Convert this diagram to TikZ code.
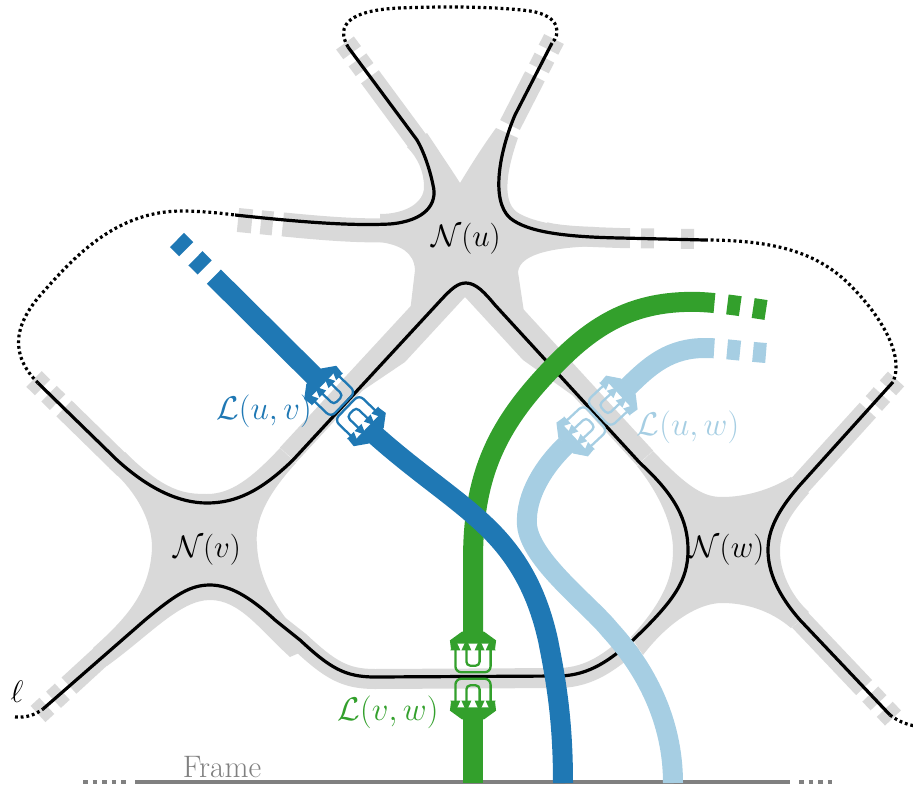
\documentclass[tikz,border=0pt]{standalone}
\definecolor{cblue}{RGB}{31,120,180}
\definecolor{clight}{RGB}{166,206,227}
\definecolor{cgreen}{RGB}{51,160,44}
\definecolor{cgray}{RGB}{217,217,217}
\definecolor{cframe}{RGB}{128,128,128}
\newcommand{\bigtxt}[1]{\scalebox{1.25}{\Huge #1}}
\newcommand{\lnktxt}[1]{\scalebox{1.32}{\Huge #1}}
\tikzset{pics/plug/.style={code={
  \fill[#1] (-10,-14) -- (10,-14) -- (21,-6) -- (20,2) -- (16,-3) -- (-16,-3) -- (-20,2) -- (-21,-6) -- cycle;
  \foreach \xx in {-16,-6,6,16} { \fill[#1] (\xx,-7) -- (\xx+4.5,3) -- (\xx-4.5,3) -- cycle; }
  \draw[#1, line width=2.3pt, rounded corners=6pt] (-16,2) -- (-16,23) -- (16,23) -- (16,2);
  \draw[#1, line width=2.3pt, rounded corners=4pt] (-6,2) -- (-6,17) -- (6,17) -- (6,2);
}}}
\begin{document}
\begin{tikzpicture}[x=1pt,y=-1pt,
  blk/.style={line width=3.2pt, black},
  dotl/.style={line width=3.2pt, dash pattern=on 2.8pt off 2.9pt, black},
  band/.style={line width=22pt, cgray, line join=round},
  halfband/.style={band, dash pattern=on 12pt off 9pt on 12pt off 9pt on 3000pt},
  blob/.style={fill=cgray},
  link/.style={line width=20pt},
  linkend/.style={link, dash pattern=on 13pt off 13pt on 13pt off 13pt on 3000pt},
  lab/.style={inner sep=0pt},
]
\useasboundingbox (0,0) rectangle (913,789);

% ---------- gray surface ----------
% vertex N(v)
\fill[blob] (125,452) .. controls (165,492) and (185,494) .. (207,494) .. controls (230,494) and (250,480) .. (280,448) -- (296,463) .. controls (262,500) and (255,525) .. (257,545) .. controls (258,575) and (275,610) .. (302,637) -- (306,650) -- (290,657) .. controls (260,630) and (240,600) .. (210,600) .. controls (180,600) and (150,635) .. (107,666) -- (93,648) .. controls (130,615) and (150,590) .. (152,548) .. controls (152,515) and (130,485) .. (109,468) -- cycle;
% vertex N(w)
\fill[blob] (653,451) .. controls (690,490) and (705,497) .. (722,497) .. controls (745,497) and (770,490) .. (791,477) -- (809,493) .. controls (785,520) and (780,535) .. (780,552) .. controls (780,570) and (790,595) .. (809,612) -- (791,628) .. controls (770,610) and (745,603) .. (722,603) .. controls (700,603) and (670,620) .. (643,655) -- (631,637) .. controls (665,600) and (673,575) .. (673,550) .. controls (673,525) and (660,495) .. (637,466) -- cycle;
% vertex N(u)
\fill[blob] (380,214) .. controls (405,214) and (424,203) .. (424,187) .. controls (424,172) and (418,158) .. (407,147) -- (427,133) .. controls (445,160) and (455,175) .. (460,183) .. controls (468,170) and (480,150) .. (496,128) -- (518,138) .. controls (505,175) and (502,205) .. (520,214) .. controls (535,222) and (560,227) .. (595,227) -- (600,246) .. controls (560,247) and (520,252) .. (518,272) -- (524,312) -- (572,395) -- (523,360) -- (465,297) -- (405,362) -- (362,391) -- (410,312) -- (415,270) .. controls (414,252) and (400,245) .. (380,242) -- cycle;
% edge ribbons
\draw[band] (288,455) -- (435,296);
\draw[band] (500,300) -- (645,458);
\draw[band, line width=20pt] (272,620) -- (300,642) .. controls (330,670) and (345,679) .. (375,679) -- (560,678) .. controls (590,677) and (610,662) .. (633,642);
% half-edge ribbons
\draw[halfband] (38,714) -- (110,648);
\draw[halfband] (34,379) -- (125,468);
\draw[halfband] (345,43) -- (421,146);
\draw[halfband] (554,39) -- (510,125);
\draw[halfband, line width=24pt, dash pattern=on 14pt off 9pt on 12pt off 10pt on 3000pt] (238,220) .. controls (300,226) and (350,232) .. (395,230);
\draw[halfband, line width=20pt, dash pattern=on 13pt off 27pt on 13pt off 11pt on 3000pt] (694,239) -- (620,238) .. controls (590,237) and (560,236) .. (545,232);
\draw[halfband] (896,379) -- (800,485);
\draw[halfband] (893,718) -- (800,620);

% ---------- frame ----------
\draw[cframe, line width=3.5pt] (135,782) -- (790,782);
\draw[cframe, line width=3.5pt, dash pattern=on 4.5pt off 5pt] (83,782) -- (127,782);
\draw[cframe, line width=3.5pt, dash pattern=on 4.5pt off 5pt] (799,782) -- (833,782);
\node[lab, text=cframe, anchor=base] (frame) at (222,777) {\bigtxt{Frame}};

% ---------- boundary curve ----------
\draw[dotl] (15,717) .. controls (28,718) and (36,714) .. (43,709);
\draw[blk] (43,709) -- (145,620) .. controls (175,595) and (190,585) .. (210,585) .. controls (230,585) and (250,597) .. (275,620) -- (300,640) .. controls (330,668) and (345,677) .. (375,677) -- (560,676) .. controls (590,675) and (610,660) .. (633,640) .. controls (675,600) and (688,580) .. (688,550) .. controls (688,520) and (675,495) .. (640,463) -- (495,305) .. controls (485,293) and (476,283) .. (466,283) .. controls (458,283) and (452,288) .. (440,301) -- (293,460) .. controls (260,492) and (235,503) .. (207,503) .. controls (180,503) and (150,490) .. (117,460) -- (38,383);
\draw[dotl] (38,383) .. controls (10,355) and (12,325) .. (45,290) .. controls (80,250) and (120,212) .. (180,211) .. controls (200,211) and (220,213) .. (235,215);
\draw[blk] (235,215) .. controls (300,222) and (350,226) .. (390,224) .. controls (425,221) and (438,204) .. (433,185) .. controls (430,170) and (424,152) .. (417,140) -- (348,47);
\draw[dotl] (348,47) .. controls (335,25) and (350,10) .. (400,8) .. controls (450,6) and (500,7) .. (530,11) .. controls (562,16) and (560,35) .. (552,43);
\draw[blk] (552,43) -- (515,115) .. controls (500,150) and (490,200) .. (510,218) .. controls (528,233) and (570,237) .. (620,238) -- (705,240);
\draw[dotl] (705,240) .. controls (780,240) and (820,255) .. (850,285) .. controls (880,315) and (905,355) .. (893,382);
\draw[blk] (893,382) -- (800,485) .. controls (778,510) and (768,530) .. (768,550) .. controls (768,572) and (778,595) .. (800,620) -- (890,715);
\draw[dotl] (890,715) .. controls (898,721) and (905,724) .. (915,726);

% ---------- links ----------
% green L(v,w)
\coordinate (g1) at (473,647);
\coordinate (g1h) at (473,633);
\coordinate (g2) at (473,704);
\coordinate (g2h) at (473,718);
\draw[cgreen, linkend] (766,310) .. controls (740,306) and (720,303) .. (700,302) .. controls (640,300) and (600,320) .. (560,360) .. controls (500,420) and (473,470) .. (473,560) -- (g1h);
\draw[cgreen, link] (g2h) -- (473,783);
\pic[rotate=0, scale=1.1] (pg1) at (g1) {plug=cgreen};
\pic[rotate=180, scale=1.1] (pg2) at (g2) {plug=cgreen};
% light blue L(u,w)
\coordinate (c1) at (617,397);
\coordinate (c1h) at (628,387);
\coordinate (c2) at (577,435);
\coordinate (c2h) at (566,445);
\draw[clight, linkend] (766,353) .. controls (740,351) and (720,348) .. (705,348) .. controls (670,348) and (650,365) .. (c1h);
\draw[clight, link] (c2h) .. controls (545,465) and (525,495) .. (527,525) .. controls (530,560) and (590,605) .. (610,630) .. controls (645,668) and (673,720) .. (673,783);
\pic[rotate=-47, scale=1.1] (pc1) at (c1) {plug=clight};
\pic[rotate=133, scale=1.1] (pc2) at (c2) {plug=clight};
% blue L(u,v)
\coordinate (b1) at (325,387);
\coordinate (b1h) at (315,377);
\coordinate (b2) at (365,425);
\coordinate (b2h) at (375,435);
\draw[cblue, linkend] (177,240) -- (b1h);
\draw[cblue, link] (b2h) .. controls (420,475) and (460,500) .. (490,530) .. controls (520,560) and (538,595) .. (548,640) .. controls (556,680) and (563,720) .. (563,783);
\pic[rotate=46, scale=1.1] (pb1) at (b1) {plug=cblue};
\pic[rotate=226, scale=1.1] (pb2) at (b2) {plug=cblue};

% ---------- labels ----------
\node[lab] (Nu) at (466,239) {\bigtxt{$\mathcal{N}(u)$}};
\node[lab] (Nv) at (207,550) {\bigtxt{$\mathcal{N}(v)$}};
\node[lab] (Nw) at (727,550) {\bigtxt{$\mathcal{N}(w)$}};
\node[lab, text=cblue] (Luv) at (264,411) {\lnktxt{$\mathcal{L}(u,v)$}};
\node[lab, text=clight] (Luw) at (688,427) {\lnktxt{$\mathcal{L}(u,w)$}};
\node[lab, text=cgreen] (Lvw) at (388,712) {\lnktxt{$\mathcal{L}(v,w)$}};
\node[lab] (ell) at (17,692) {\bigtxt{$\ell$}};
\end{tikzpicture}
\end{document}
